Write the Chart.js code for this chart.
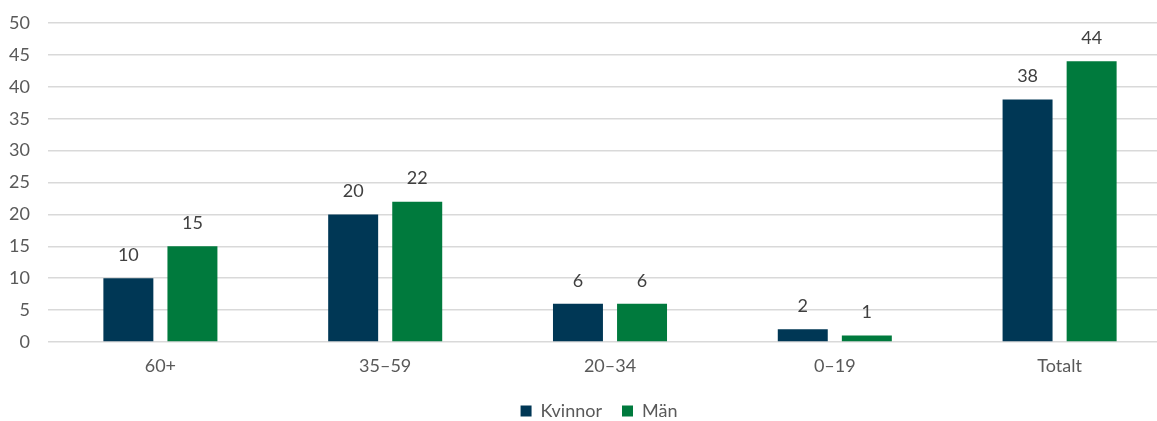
<!DOCTYPE html>
<html>
<head>
<meta charset="utf-8">
<script src="https://cdn.jsdelivr.net/npm/chart.js@4/dist/chart.umd.min.js"></script>
<style>
  html, body { margin: 0; padding: 0; background: #fff; overflow: hidden; }
  #wrap { width: 1172px; height: 421px; }
</style>
</head>
<body>
<div id="wrap"><canvas id="age_chart"></canvas></div>
<script>
const categories = ["60+", "35\u201359", "20\u201334", "0\u201319", "Totalt"];
const kvinnor = [10, 20, 6, 2, 38];
const man = [15, 22, 6, 1, 44];
const yTicks = [0, 5, 10, 15, 20, 25, 30, 35, 40, 45, 50];

const FONT = "Lato, 'Noto Sans', sans-serif";
const TXT = "#595959";

// draws the value above each bar
const valueLabels = {
  id: "valueLabels",
  afterDatasetsDraw(chart) {
    const ctx = chart.ctx;
    ctx.save();
    ctx.font = "18px " + FONT;
    ctx.fillStyle = "#404040";
    ctx.textAlign = "center";
    ctx.textBaseline = "bottom";
    chart.data.datasets.forEach((ds, i) => {
      chart.getDatasetMeta(i).data.forEach((bar, j) => {
        ctx.fillText(ds.data[j], bar.x, bar.y - 14);
      });
    });
    ctx.restore();
  }
};

// nudge the legend a little right, like the original
const legendShift = {
  id: "legendShift",
  afterLayout(chart) {
    if (chart.legend) { chart.legend.left += 13; chart.legend.right += 13; }
  }
};

new Chart(document.getElementById("age_chart").getContext("2d"), {
  type: "bar",
  data: {
    labels: categories,
    datasets: [
      { label: "Kvinnor", data: kvinnor, backgroundColor: "#003755" },
      { label: "M\u00e4n", data: man, backgroundColor: "#007A3D" }
    ]
  },
  options: {
    responsive: true,
    maintainAspectRatio: false,
    animation: false,
    categoryPercentage: 0.57,
    barPercentage: 0.78,
    layout: { padding: { top: 23, left: 0, right: 0, bottom: -9 } },
    plugins: {
      tooltip: { enabled: false },
      legend: {
        position: "bottom",
        labels: {
          boxWidth: 11, boxHeight: 11, padding: 20,
          color: TXT, font: { family: FONT, size: 18 }
        }
      }
    },
    scales: {
      x: {
        afterFit(scale) { scale.height = 40; },
        grid: { display: false, drawTicks: false },
        border: { display: false },
        ticks: { color: TXT, font: { family: FONT, size: 18 }, padding: 13 }
      },
      y: {
        min: 0, max: 50,
        afterFit(scale) { scale.width = 48; scale.paddingTop = 0; scale.paddingBottom = 0; },
        afterBuildTicks(scale) { scale.ticks = yTicks.map(v => ({ value: v })); },
        grid: { color: "#d9d9d9", lineWidth: 1.5, drawTicks: false },
        border: { display: false },
        ticks: { color: TXT, font: { family: FONT, size: 18 }, padding: 18 }
      }
    }
  },
  plugins: [valueLabels, legendShift]
});
</script>
</body>
</html>
